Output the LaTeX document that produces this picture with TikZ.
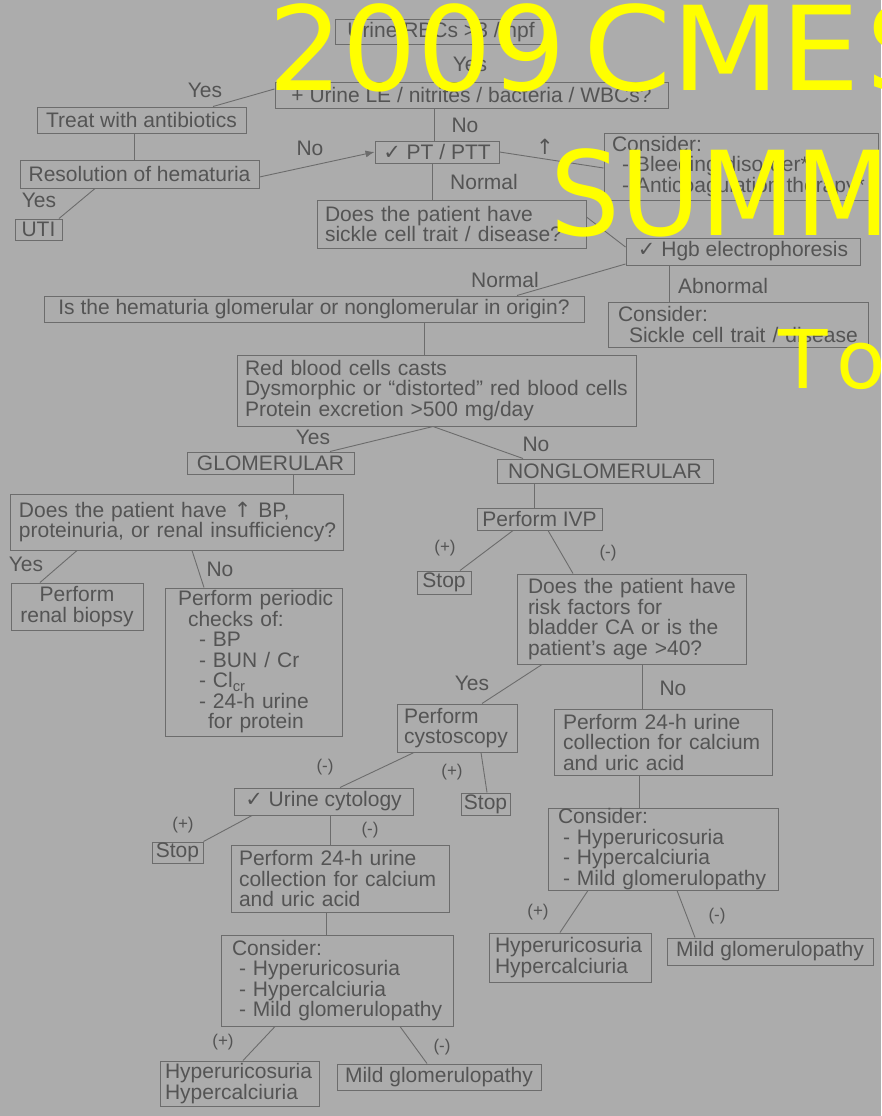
\documentclass[tikz,border=0pt]{standalone}
\usepackage{fontspec}
\usepackage{graphicx}
\setmainfont{Liberation Sans}
\newfontfamily\dvs{DejaVu Sans}
\usetikzlibrary{arrows.meta}
\definecolor{bggray}{RGB}{172,172,172}
\definecolor{txtgray}{RGB}{84,84,84}
\definecolor{lngray}{RGB}{108,108,108}
\definecolor{ovyellow}{RGB}{255,255,0}
\newcommand{\chk}{{\dvs ✓}}
\newcommand{\uparr}{{\dvs ↑}}
\begin{document}
\begin{tikzpicture}[x=1pt,y=-1pt,
  txt/.style={font=\fontsize{21}{20.5}\selectfont, text=txtgray},
  cbox/.style={txt, draw=lngray, line width=1pt, inner sep=0pt, align=center},
  lbox/.style={txt, draw=lngray, line width=1pt, inner ysep=0pt, align=left},
  lbl/.style={txt, inner sep=0pt},
  pm/.style={font=\fontsize{17}{17}\selectfont, text=txtgray, inner sep=0pt},
  conn/.style={draw=lngray, line width=0.9pt},
  ov/.style={text=ovyellow, inner sep=0pt, anchor=base west}
]
\useasboundingbox (0,0) rectangle (881,1116);
\fill[bggray] (0,0) rectangle (881,1116);

% boxes
\node[cbox, minimum width=212, minimum height=25] (rbc) at (441,32.5) {Urine RBCs >3 / hpf};
\node[cbox, minimum width=393, minimum height=26] (le) at (471.5,95) {+ Urine LE / nitrites / bacteria / WBCs?};
\node[cbox, minimum width=209, minimum height=26] (treat) at (141.5,120) {Treat with antibiotics};
\node[cbox, minimum width=239, minimum height=28] (resol) at (139.5,174) {Resolution of hematuria};
\node[cbox, minimum width=47, minimum height=21] (uti) at (38.5,229.5) {UTI};
\node[cbox, minimum width=124, minimum height=22] (pt) at (437,152) {\chk\ PT / PTT};
\node[lbox, inner xsep=8pt, text width=258pt, minimum height=67] (bleed) at (741,166.5) {\mbox{Consider:}\\\mbox{\hspace{10pt}- Bleeding disorder*}\\\mbox{\hspace{10pt}- Anticoagulation therapy*}};
\node[lbox, inner xsep=8pt, text width=253pt, minimum height=48] (sickle) at (451.5,224) {\mbox{Does the patient have}\\\mbox{sickle cell trait / disease?}};
\node[cbox, minimum width=234, minimum height=27] (hgb) at (743,251.5) {\chk\ Hgb electrophoresis};
\node[lbox, inner xsep=10pt, text width=240pt, minimum height=45] (sct) at (738,324.5) {\mbox{Consider:}\\\mbox{\hspace{11pt}Sickle cell trait / disease}};
\node[cbox, minimum width=540, minimum height=26] (glomq) at (314,309) {Is the hematuria glomerular or nonglomerular in origin?};
\node[lbox, inner xsep=8pt, text width=383pt, minimum height=71] (red) at (436.5,390.5) {\mbox{Red blood cells casts}\\\mbox{Dysmorphic or “distorted” red blood cells}\\\mbox{Protein excretion >500 mg/day}};
\node[cbox, minimum width=167, minimum height=22] (glom) at (270.5,463) {GLOMERULAR};
\node[cbox, minimum width=216, minimum height=24] (nonglom) at (605,471) {NONGLOMERULAR};
\node[lbox, inner xsep=9pt, text width=315pt, minimum height=56] (bp) at (176.5,522) {\mbox{Does the patient have \uparr\ BP,}\\\mbox{proteinuria, or renal insufficiency?}};
\node[cbox, minimum width=132, minimum height=47] (biopsy) at (77,606.5) {Perform\\renal biopsy};
\node[lbox, inner xsep=13pt, text width=151pt, minimum height=148] (periodic) at (253.5,662) {\mbox{Perform periodic}\\\mbox{\hspace{10pt}checks of:}\\\mbox{\hspace{21pt}- BP}\\\mbox{\hspace{21pt}- BUN / Cr}\\\mbox{\hspace{21pt}- Cl\textsubscript{cr}}\\\mbox{\hspace{21pt}- 24-h urine}\\\mbox{\hspace{30pt}for protein}};
\node[cbox, minimum width=125, minimum height=22] (ivp) at (539.5,519) {Perform IVP};
\node[cbox, minimum width=54, minimum height=23] (stopa) at (444,582.5) {Stop};
\node[lbox, inner xsep=11pt, text width=207pt, minimum height=90] (risk) at (631.5,619) {\mbox{Does the patient have}\\\mbox{risk factors for}\\\mbox{bladder CA or is the}\\\mbox{patient's age >40?}};
\node[lbox, inner xsep=7pt, text width=106pt, minimum height=48] (cysto) at (457,728) {\mbox{Perform}\\\mbox{cystoscopy}};
\node[lbox, inner xsep=9pt, text width=200pt, minimum height=66] (urr) at (663,742) {\mbox{Perform 24-h urine}\\\mbox{collection for calcium}\\\mbox{and uric acid}};
\node[cbox, minimum width=49, minimum height=22] (stopb) at (485.5,804) {Stop};
\node[cbox, minimum width=179, minimum height=27] (cyto) at (323.5,801.5) {\chk\ Urine cytology};
\node[cbox, minimum width=51, minimum height=21] (stopc) at (177.5,852.5) {Stop};
\node[lbox, inner xsep=8pt, text width=202pt, minimum height=67] (url) at (340,878.5) {\mbox{Perform 24-h urine}\\\mbox{collection for calcium}\\\mbox{and uric acid}};
\node[lbox, inner xsep=11pt, text width=210pt, minimum height=91] (conl) at (337,980.5) {\mbox{Consider:}\\\mbox{\hspace{7pt}- Hyperuricosuria}\\\mbox{\hspace{7pt}- Hypercalciuria}\\\mbox{\hspace{7pt}- Mild glomerulopathy}};
\node[lbox, inner xsep=5pt, text width=149pt, minimum height=45] (hypl) at (239.5,1083.5) {\mbox{Hyperuricosuria}\\\mbox{Hypercalciuria}};
\node[cbox, minimum width=204, minimum height=26] (mildl) at (439,1077) {Mild glomerulopathy};
\node[lbox, inner xsep=10pt, text width=210pt, minimum height=82] (conr) at (663,849) {\mbox{Consider:}\\\mbox{\hspace{5pt}- Hyperuricosuria}\\\mbox{\hspace{5pt}- Hypercalciuria}\\\mbox{\hspace{5pt}- Mild glomerulopathy}};
\node[lbox, inner xsep=6pt, text width=150pt, minimum height=49] (hypr) at (570,957.5) {\mbox{Hyperuricosuria}\\\mbox{Hypercalciuria}};
\node[cbox, minimum width=206, minimum height=27] (mildr) at (770,951.5) {Mild glomerulopathy};

% connectors
\draw[conn] (rbc.south -| 434,0) -- (le.north -| 434,0);
\draw[conn] (treat.north -| 213,0) -- (le.west |- 0,89);
\draw[conn] (treat.south -| 134,0) -- (resol.north -| 134,0);
\draw[conn] (resol.south -| 95,0) -- (uti.north -| 59,0);
\draw[conn,-{Latex[length=9pt,width=7pt]}] (resol.east |- 0,177) -- (pt.west);
\draw[conn] (le.south -| 434,0) -- (pt.north -| 434,0);
\draw[conn] (pt.east) -- (bleed.west |- 0,168);
\draw[conn] (pt.south -| 432,0) -- (sickle.north -| 432,0);
\draw[conn] (sickle.east |- 0,217) -- (hgb.west |- 0,247);
\draw[conn] (hgb.west |- 0,264) -- (glomq.north -| 517,0);
\draw[conn] (hgb.south -| 669,0) -- (sct.north -| 669,0);
\draw[conn] (glomq.south -| 424,0) -- (red.north -| 424,0);
\draw[conn] (red.south -| 433,0) -- (glom.north -| 330,0);
\draw[conn] (red.south -| 433,0) -- (nonglom.north -| 523,0);
\draw[conn] (glom.south -| 293,0) -- (bp.north -| 293,0);
\draw[conn] (bp.south -| 77,0) -- (biopsy.north -| 40,0);
\draw[conn] (bp.south -| 192,0) -- (periodic.north -| 204,0);
\draw[conn] (nonglom.south -| 534,0) -- (ivp.north -| 534,0);
\draw[conn] (ivp.south -| 513,0) -- (stopa.north -| 460,0);
\draw[conn] (ivp.south -| 548,0) -- (risk.north -| 573,0);
\draw[conn] (risk.south -| 542,0) -- (cysto.north -| 482,0);
\draw[conn] (risk.south -| 642,0) -- (urr.north -| 642,0);
\draw[conn] (cysto.south -| 414,0) -- (cyto.north -| 340,0);
\draw[conn] (cysto.south -| 481,0) -- (stopb.north -| 487,0);
\draw[conn] (cyto.south -| 252,0) -- (stopc.north east);
\draw[conn] (cyto.south -| 330,0) -- (url.north -| 330,0);
\draw[conn] (url.south -| 326,0) -- (conl.north -| 326,0);
\draw[conn] (conl.south -| 275,0) -- (hypl.north -| 243,0);
\draw[conn] (conl.south -| 400,0) -- (mildl.north -| 427,0);
\draw[conn] (urr.south -| 639,0) -- (conr.north -| 639,0);
\draw[conn] (conr.south -| 588,0) -- (hypr.north -| 560,0);
\draw[conn] (conr.south -| 677,0) -- (mildr.north -| 695,0);

% labels
\node[lbl] (lyes1) at (470,64) {Yes};
\node[lbl] (lyes2) at (205,90) {Yes};
\node[lbl] (lno1) at (465,125) {No};
\node[lbl] (lno2) at (310,148) {No};
\node[lbl] (lup) at (545,147) {\uparr};
\node[lbl] (lnorm1) at (484,182) {Normal};
\node[lbl] (lyes3) at (39,200) {Yes};
\node[lbl] (lnorm2) at (505,280) {Normal};
\node[lbl] (labn) at (723,286) {Abnormal};
\node[lbl] (lyes4) at (313,437) {Yes};
\node[lbl] (lno3) at (536,444) {No};
\node[lbl] (lyes5) at (26,564) {Yes};
\node[lbl] (lno4) at (220,569) {No};
\node[pm] (p1) at (445,548) {(+)};
\node[pm] (m1) at (608,553) {(-)};
\node[lbl] (lyes6) at (472,683) {Yes};
\node[lbl] (lno5) at (673,688) {No};
\node[pm] (m2) at (325,767) {(-)};
\node[pm] (p2) at (452,772) {(+)};
\node[pm] (p3) at (183,825) {(+)};
\node[pm] (m3) at (370,830) {(-)};
\node[pm] (p4) at (538,912) {(+)};
\node[pm] (m4) at (717,916) {(-)};
\node[pm] (p5) at (223,1042) {(+)};
\node[pm] (m5) at (442,1047) {(-)};

% overlay
\begin{scope}
\clip (0,0) rectangle (881,1116);
\node[ov, font=\dvs\fontsize{117}{117}\selectfont] (ov1) at (268,90) {2009};
\node[ov, font=\dvs\fontsize{117}{117}\selectfont] (ov2) at (583,90) {\scalebox{1.08}[1]{CME}};
\node[ov, font=\dvs\fontsize{117}{117}\selectfont] (ov3) at (866,90) {S};
\node[ov, font=\dvs\fontsize{117}{117}\selectfont] (ov4) at (550,235) {\scalebox{0.94}[1]{SUMM}};
\node[ov, font=\dvs\fontsize{81}{81}\selectfont] (ov5) at (778,388) {T};
\node[ov, font=\dvs\fontsize{81}{81}\selectfont] (ov6) at (836,388) {o};
\end{scope}
\end{tikzpicture}
\end{document}
